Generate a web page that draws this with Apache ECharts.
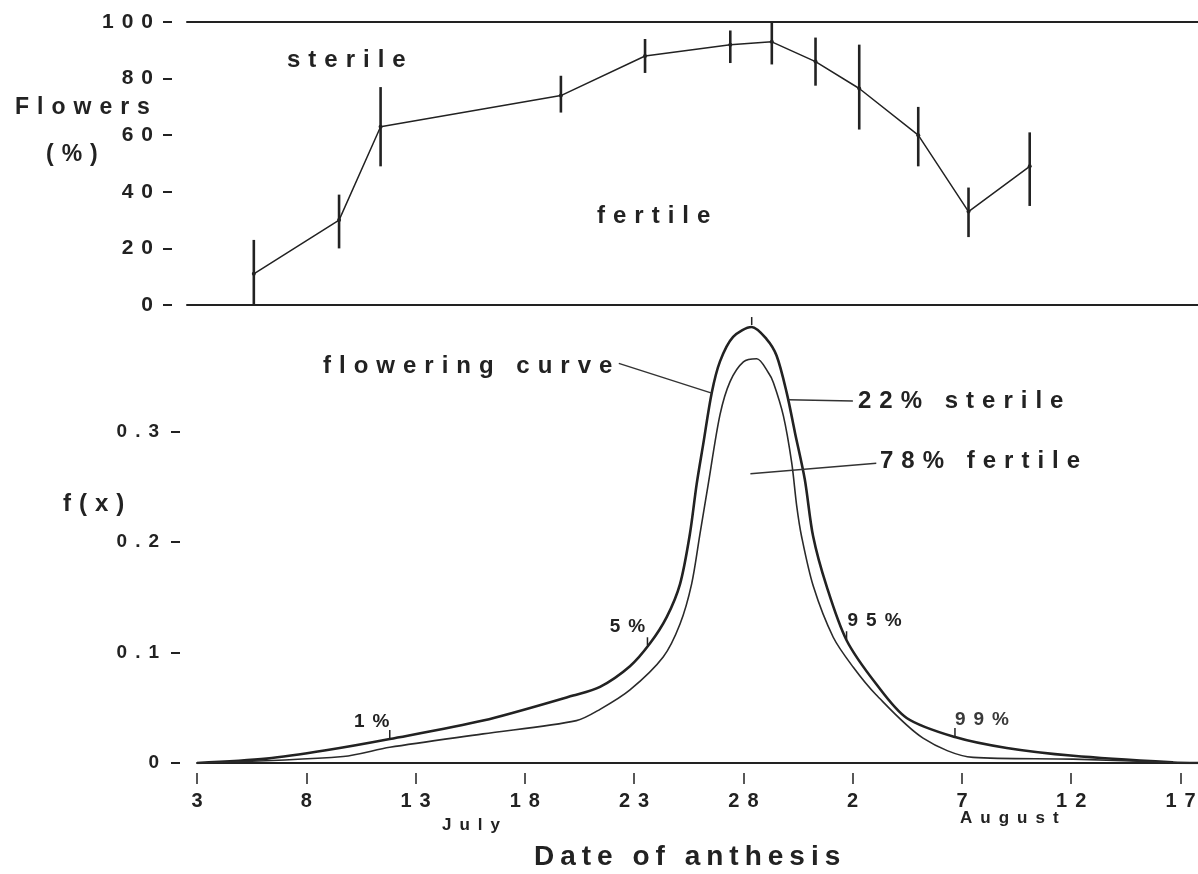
<!DOCTYPE html>
<html>
<head>
<meta charset="utf-8">
<title>Flowering curve</title>
<script src="https://cdn.jsdelivr.net/npm/echarts@6/dist/echarts.min.js"></script>
<style>
  html, body { margin: 0; padding: 0; background: #fff; }
  #chart { width: 1198px; height: 874px; }
</style>
</head>
<body>
<div id="chart"></div>
<script>
// ---- data (days counted from 1 July, so 2 Aug = 33) ----
var flowerDays  = [5.6, 9.5, 11.4, 19.65, 23.5, 27.4, 29.3, 31.3, 33.3, 36.0, 38.3, 41.1];
var fertilePct  = [11, 30, 63, 74, 88, 92, 93, 86, 76.5, 60, 33, 49];
var fertileLow  = [0, 20, 49, 68, 82, 85.5, 85, 77.5, 62, 49, 24, 35];
var fertileHigh = [23, 39, 77, 81, 94, 97, 100, 94.5, 92, 70, 41.5, 61];

// flowering curve (all flowers)
var outerDays = [3.0, 6.19, 8.9, 11.82, 16.09, 20.21, 21.44, 22.81, 23.72, 24.49, 25.10, 25.55, 25.86,
                 26.16, 26.55, 26.93, 27.53, 28.38, 29.06, 29.52, 29.98, 30.36, 30.81, 31.19, 31.81,
                 32.72, 34.06, 35.47, 37.68, 40.05, 43.09, 47.67, 48.8];
var outerF    = [0, 0.004, 0.0115, 0.0217, 0.0384, 0.0611, 0.069, 0.0877, 0.1082, 0.1322, 0.1621, 0.2072, 0.2524,
                 0.2886, 0.3352, 0.3638, 0.386, 0.3949, 0.384, 0.3689, 0.3355, 0.2992, 0.2568, 0.2053, 0.1599,
                 0.1112, 0.072, 0.0408, 0.0235, 0.0136, 0.0065, 0.0005, 0];
// fertile part
var innerDays = [3.0, 9.69, 11.82, 16.09, 20.36, 21.44, 22.81, 24.33, 25.10, 25.63, 26.01, 26.39, 26.93,
                 27.39, 28.0, 28.61, 29.13, 29.37, 29.83, 30.21, 30.44, 30.66, 31.20, 32.11, 33.02,
                 34.06, 36.22, 38.51, 43.09, 47.67, 48.8];
var innerF    = [0, 0.0059, 0.0142, 0.0264, 0.0384, 0.0486, 0.0662, 0.096, 0.1259, 0.162, 0.2071, 0.2523, 0.3155,
                 0.3455, 0.3634, 0.3662, 0.354, 0.3447, 0.3144, 0.272, 0.2327, 0.2054, 0.16, 0.1139, 0.0869,
                 0.062, 0.0225, 0.0051, 0.0035, 0.0005, 0];

// cumulative percentage marks on the flowering curve
var pctLabels = ['1%', '5%', '95%', '99%'];
var pctDays   = [11.82, 23.61, 32.72, 37.68];
var peakDay   = 28.38;

// tick labels
var xTickLabels   = ['3', '8', '13', '18', '23', '28', '2', '7', '12', '17'];
var yTopLabels    = ['0', '20', '40', '60', '80', '100'];
var yBottomLabels = ['0', '0.1', '0.2', '0.3'];

var FIRST_DAY = 3;      // x axis starts on 3 July
var LAST_DAY = 48.8;    // right edge of the figure
var FONT = '"Liberation Sans", Arial, Helvetica, sans-serif';
var INK = '#222';

// the original was typeset with wide letter spacing
(function () {
  var proto = CanvasRenderingContext2D.prototype;
  if (!('letterSpacing' in proto)) return;
  ['fillText', 'strokeText'].forEach(function (fn) {
    var orig = proto[fn];
    proto[fn] = function (text, x, y, maxWidth) {
      var m = /(\d+(?:\.\d+)?)px/.exec(this.font);
      var size = m ? parseFloat(m[1]) : 12;
      var sp = size >= 27 ? 6 : 8;
      var prev = this.letterSpacing;
      this.letterSpacing = sp + 'px';
      if (this.textAlign === 'right' || this.textAlign === 'end') x += sp;
      else if (this.textAlign === 'center') x += sp / 2;
      var r = maxWidth === undefined ? orig.call(this, text, x, y) : orig.call(this, text, x, y, maxWidth);
      this.letterSpacing = prev;
      return r;
    };
  });
})();

function off(d) { return d - FIRST_DAY; }

function interp(days, vals, d) {
  for (var i = 1; i < days.length; i++) {
    if (d <= days[i]) {
      var t = (d - days[i - 1]) / (days[i] - days[i - 1]);
      return vals[i - 1] + t * (vals[i] - vals[i - 1]);
    }
  }
  return vals[vals.length - 1];
}

var topLine = flowerDays.map(function (d, i) { return [off(d), fertilePct[i]]; });
var topBars = flowerDays.map(function (d, i) { return [off(d), fertileLow[i], fertileHigh[i]]; });
var outerData = outerDays.map(function (d, i) { return [off(d), outerF[i]]; });
var innerData = innerDays.map(function (d, i) { return [off(d), innerF[i]]; });

var labelOffsets = [[-18, -12], [-20, -15], [28, -14], [27, -12]];
var pctMarks = pctDays.map(function (d, i) {
  return {
    name: pctLabels[i],
    coord: [off(d), interp(outerDays, outerF, d)],
    label: {
      show: true, position: 'inside', formatter: pctLabels[i], offset: labelOffsets[i],
      color: i === 3 ? '#3a3a3a' : INK, fontFamily: FONT, fontSize: 19, fontWeight: 'bold'
    }
  };
});
pctMarks.push({ name: 'peak', coord: [off(peakDay), interp(outerDays, outerF, peakDay)],
  symbolOffset: [0, -6], label: { show: false } });

// leader lines from the annotations to the curves (day, f)
var leaders = [
  [[22.30, 0.362], [26.55, 0.335]],   // flowering curve
  [[33.01, 0.328], [30.05, 0.329]],   // 22% sterile
  [[34.08, 0.2715], [28.32, 0.262]]   // 78% fertile
];

var xMinTop = -10 / 21.86;          // top panel frame starts a little left of 3 July
var xMax = LAST_DAY - FIRST_DAY;
var xTicks = [0, 5, 10, 15, 20, 25, 30, 35, 40, 45];
var yBottomTicks = [0, 0.1, 0.2, 0.3];

var chart = echarts.init(document.getElementById('chart'), null, { renderer: 'canvas' });

var option = {
  backgroundColor: '#fff',
  animation: false,
  grid: [
    { left: 187, right: 0, top: 22, height: 283 },
    { left: 197, right: 0, top: 321.4, height: 441.6 }
  ],
  xAxis: [
    { gridIndex: 0, type: 'value', min: xMinTop, max: xMax, position: 'bottom',
      axisLine: { show: true, onZero: false, lineStyle: { color: INK, width: 2 } },
      axisTick: { show: false }, axisLabel: { show: false }, splitLine: { show: false } },
    { gridIndex: 0, type: 'value', min: xMinTop, max: xMax, position: 'top',
      axisLine: { show: true, onZero: false, lineStyle: { color: INK, width: 2 } },
      axisTick: { show: false }, axisLabel: { show: false }, splitLine: { show: false } },
    { gridIndex: 1, type: 'value', min: 0, max: xMax, position: 'bottom', offset: 10,
      axisLine: { show: false, onZero: false },
      axisTick: { show: true, length: 11, customValues: xTicks,
        lineStyle: { color: INK, width: 1.5 } },
      axisLabel: { show: true, margin: 18, customValues: xTicks,
        color: INK, fontFamily: FONT, fontSize: 20, fontWeight: 'bold',
        formatter: function (v) { return xTickLabels[Math.round(v / 5)] || ''; } },
      splitLine: { show: false } },
    { gridIndex: 1, type: 'value', min: 0, max: xMax, position: 'bottom',
      axisLine: { show: true, onZero: false, lineStyle: { color: INK, width: 2 } },
      axisTick: { show: false }, axisLabel: { show: false }, splitLine: { show: false } }
  ],
  yAxis: [
    { gridIndex: 0, type: 'value', min: 0, max: 100, interval: 20, offset: 15,
      axisLine: { show: false, onZero: false },
      axisTick: { show: true, length: 9, lineStyle: { color: INK, width: 2 } },
      axisLabel: { margin: 19, color: INK, fontFamily: FONT, fontSize: 21, fontWeight: 'bold',
        formatter: function (v) { return yTopLabels[Math.round(v / 20)] || ''; } },
      splitLine: { show: false } },
    { gridIndex: 1, type: 'value', min: 0, max: 0.4, offset: 17,
      axisLine: { show: false, onZero: false },
      axisTick: { show: true, length: 9, customValues: yBottomTicks,
        lineStyle: { color: INK, width: 2 } },
      axisLabel: { margin: 21, customValues: yBottomTicks,
        color: INK, fontFamily: FONT, fontSize: 19, fontWeight: 'bold',
        formatter: function (v) { return yBottomLabels[Math.round(v * 10)] || ''; } },
      splitLine: { show: false } }
  ],
  series: [
    {
      name: 'fertile %', type: 'line', xAxisIndex: 0, yAxisIndex: 0,
      data: topLine, symbol: 'circle', symbolSize: 4,
      itemStyle: { color: INK }, lineStyle: { color: INK, width: 1.5 }
    },
    {
      name: 'range', type: 'custom', xAxisIndex: 0, yAxisIndex: 0,
      data: topBars, encode: { x: 0, y: [1, 2] },
      renderItem: function (params, api) {
        var lo = api.coord([api.value(0), api.value(1)]);
        var hi = api.coord([api.value(0), api.value(2)]);
        return { type: 'line', shape: { x1: lo[0], y1: lo[1], x2: hi[0], y2: hi[1] },
          style: { stroke: INK, lineWidth: 2.6 } };
      }
    },
    {
      name: 'flowering curve', type: 'line', xAxisIndex: 2, yAxisIndex: 1,
      data: outerData, smooth: 0.3, symbol: 'none',
      lineStyle: { color: INK, width: 2.6 },
      markPoint: {
        symbol: 'rect', symbolSize: [1.5, 8], symbolOffset: [0, -5], silent: true,
        itemStyle: { color: INK },
        data: pctMarks
      },
      markLine: {
        symbol: ['none', 'none'], silent: true, label: { show: false },
        lineStyle: { color: '#333', width: 1.5, type: 'solid' },
        data: leaders.map(function (l) {
          return [{ coord: [off(l[0][0]), l[0][1]] }, { coord: [off(l[1][0]), l[1][1]] }];
        })
      }
    },
    {
      name: 'fertile', type: 'line', xAxisIndex: 2, yAxisIndex: 1,
      data: innerData, smooth: 0.3, symbol: 'none',
      lineStyle: { color: '#2a2a2a', width: 1.6 }
    }
  ],
  graphic: [
    { type: 'text', x: 15, y: 108, style: { text: 'Flowers', fill: INK, font: 'bold 23px ' + FONT, verticalAlign: 'middle' } },
    { type: 'text', x: 46, y: 155, style: { text: '(%)', fill: INK, font: 'bold 23px ' + FONT, verticalAlign: 'middle' } },
    { type: 'text', x: 287, y: 60, style: { text: 'sterile', fill: INK, font: 'bold 24px ' + FONT, verticalAlign: 'middle' } },
    { type: 'text', x: 597, y: 216, style: { text: 'fertile', fill: INK, font: 'bold 24px ' + FONT, verticalAlign: 'middle' } },
    { type: 'text', x: 323, y: 366, style: { text: 'flowering curve', fill: INK, font: 'bold 24px ' + FONT, verticalAlign: 'middle' } },
    { type: 'text', x: 858, y: 401, style: { text: '22% sterile', fill: INK, font: 'bold 24px ' + FONT, verticalAlign: 'middle' } },
    { type: 'text', x: 880, y: 461, style: { text: '78% fertile', fill: INK, font: 'bold 24px ' + FONT, verticalAlign: 'middle' } },
    { type: 'text', x: 63, y: 504, style: { text: 'f(x)', fill: INK, font: 'bold 24px ' + FONT, verticalAlign: 'middle' } },
    { type: 'text', x: 442, y: 825, style: { text: 'July', fill: INK, font: 'bold 17px ' + FONT, verticalAlign: 'middle' } },
    { type: 'text', x: 960, y: 818, style: { text: 'August', fill: INK, font: 'bold 17px ' + FONT, verticalAlign: 'middle' } },
    { type: 'text', x: 534, y: 857, style: { text: 'Date of anthesis', fill: INK, font: 'bold 28px ' + FONT, verticalAlign: 'middle' } }
  ]
};

chart.setOption(option);
</script>
</body>
</html>
